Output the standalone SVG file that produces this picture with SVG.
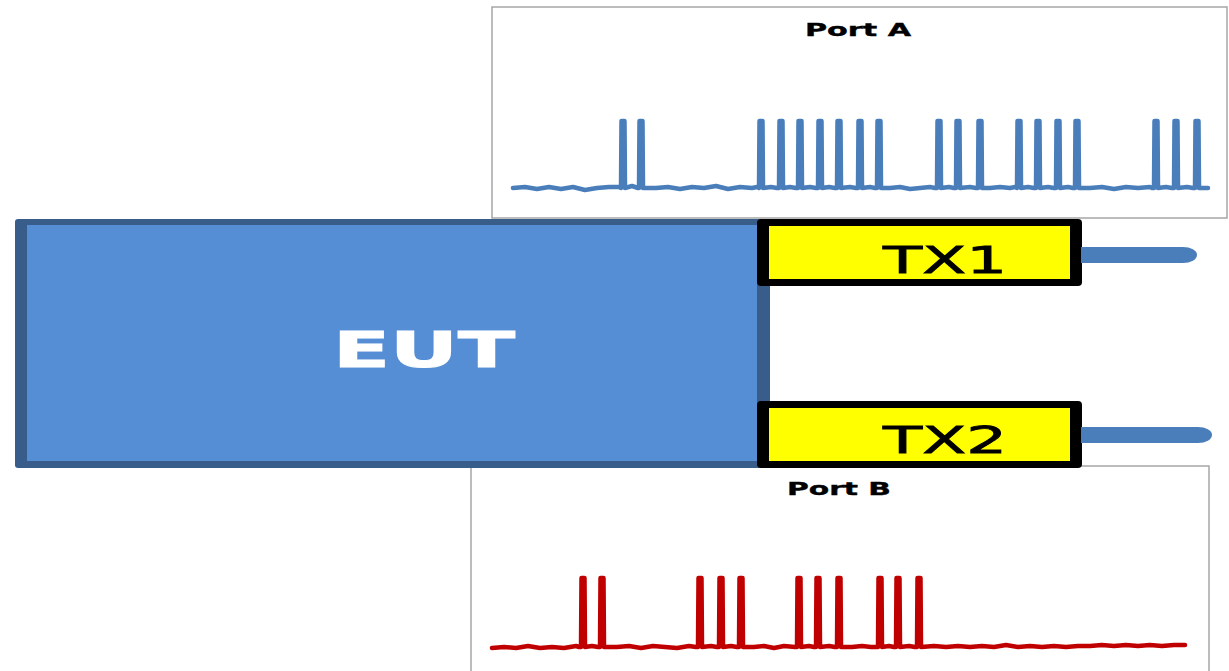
<svg xmlns="http://www.w3.org/2000/svg" width="1229" height="671" viewBox="0 0 1229 671">
  <style>
    .chart { fill: #ffffff; stroke: #a6a6a6; stroke-width: 1.5; }
    .title { font-family: "DejaVu Sans", Verdana, sans-serif; font-weight: bold; font-size: 18px; fill: #000000; stroke: #000000; stroke-width: 0.4; }
    .wave { fill: none; stroke-width: 4.5; stroke-linejoin: round; stroke-linecap: round; }
    .waveA { stroke: #4a7ebb; }
    .waveB { stroke: #c00000; }
    .eutBorder { fill: #385d8a; }
    .eutFill { fill: #558ed5; }
    .eutText { font-family: "DejaVu Sans", Verdana, sans-serif; font-weight: bold; font-size: 50px; fill: #ffffff; stroke: #ffffff; stroke-width: 1; }
    .txBorder { fill: #000000; }
    .txFill { fill: #ffff00; }
    .txText { font-family: "DejaVu Sans", Verdana, sans-serif; font-size: 38px; fill: #000000; stroke: #000000; stroke-width: 0.8; }
    .antenna { fill: #4a7ebb; }
  </style>

  <!-- Port A chart -->
  <g id="portA">
    <rect class="chart" x="492" y="7" width="735" height="211"/>
    <text class="title" x="858" y="36" text-anchor="middle" textLength="106" lengthAdjust="spacingAndGlyphs">Port A</text>
    <path class="wave waveA" d="M513,188 L525,187 L537,189 L549,187 L561,189 L573,187 L585,190 L597,188 L609,187 L619,187
      L621,188 L621.5,121 L624.5,121 L625,188 L632,186 L638,188
      L639,188 L639.5,121 L642.5,121 L643,188
      L656,188 L668,187 L680,189 L692,187 L704,188 L716,186 L728,189 L740,187 L752,188 L757,187
      L759,188 L759.5,121 L762.5,121 L763,188 L771,187 L777,188
      L779,188 L779.5,121 L782.5,121 L783,188 L790,187 L796,188
      L798,188 L798.5,121 L801.5,121 L802,188 L810,187 L816,188
      L818,188 L818.5,121 L821.5,121 L822,188 L829,187 L835,188
      L837,188 L837.5,121 L840.5,121 L841,188 L850,187 L856,188
      L858,188 L858.5,121 L861.5,121 L862,188 L870,187 L875,188
      L877,188 L877.5,121 L880.5,121 L881,188
      L890,188 L900,187 L910,189 L920,188 L930,187 L935,188
      L937,188 L937.5,121 L940.5,121 L941,188 L949,187 L954,188
      L956,188 L956.5,121 L959.5,121 L960,188 L970,187 L976,188
      L978,188 L978.5,121 L981.5,121 L982,188
      L990,188 L1000,187 L1010,188 L1015,187
      L1017,188 L1017.5,121 L1020.5,121 L1021,188 L1028,187 L1034,188
      L1036,188 L1036.5,121 L1039.5,121 L1040,188 L1048,187 L1054,188
      L1056,188 L1056.5,121 L1059.5,121 L1060,188 L1068,187 L1073,188
      L1075,188 L1075.5,121 L1078.5,121 L1079,188
      L1090,188 L1102,187 L1114,189 L1126,187 L1138,188 L1150,187 L1152,188
      L1154,188 L1154.5,121 L1157.5,121 L1158,188 L1166,187 L1172,188
      L1174,188 L1174.5,121 L1177.5,121 L1178,188 L1187,187 L1193,188
      L1195,188 L1195.5,121 L1198.5,121 L1199,188 L1208,188"/>
  </g>

  <!-- Port B chart -->
  <g id="portB">
    <rect class="chart" x="471" y="466" width="738" height="215"/>
    <text class="title" x="839" y="495" text-anchor="middle" textLength="104" lengthAdjust="spacingAndGlyphs">Port B</text>
    <path class="wave waveB" d="M492,648 L504,647 L516,648 L528,646 L540,648 L552,647 L564,648 L576,646 L579,647
      L581,647 L581.5,578 L584.5,578 L585,647 L592,646 L598,647
      L600,647 L600.5,578 L603.5,578 L604,647
      L617,647 L629,646 L641,648 L653,646 L665,647 L677,648 L689,646 L696,647
      L698,647 L698.5,578 L701.5,578 L702,647 L711,646 L717,647
      L719,647 L719.5,578 L722.5,578 L723,647 L731,646 L737,647
      L739,647 L739.5,578 L742.5,578 L743,647
      L754,647 L764,646 L774,648 L784,646 L795,647
      L797,647 L797.5,578 L800.5,578 L801,647 L809,646 L814,647
      L816,647 L816.5,578 L819.5,578 L820,647 L829,646 L835,647
      L837,647 L837.5,578 L840.5,578 L841,647
      L852,647 L862,646 L871,647 L876,647
      L878,647 L878.5,578 L881.5,578 L882,647 L889,646 L894,647
      L896,647 L896.5,578 L899.5,578 L900,647 L909,646 L915,647
      L917,647 L917.5,578 L920.5,578 L921,647
      L934,646 L946,647 L958,646 L970,647 L982,646 L994,647 L1006,645 L1018,647 L1030,646
      L1042,647 L1054,646 L1066,647 L1078,646 L1090,646 L1102,645 L1114,646 L1126,645
      L1138,646 L1150,645 L1162,646 L1174,645 L1185,645"/>
  </g>

  <!-- Equipment under test -->
  <g id="eut">
    <rect class="eutBorder" x="15" y="219" width="755" height="249" rx="3"/>
    <rect class="eutFill" x="27" y="225" width="730" height="236"/>
    <text class="eutText" x="424" y="367" text-anchor="middle" textLength="182" lengthAdjust="spacingAndGlyphs">EUT</text>
  </g>

  <!-- Transmitter 1 -->
  <g id="tx1">
    <rect class="txBorder" x="757" y="219" width="325" height="67" rx="4"/>
    <rect class="txFill" x="769" y="226" width="301" height="53"/>
    <text class="txText" x="945" y="273" text-anchor="middle" textLength="124" lengthAdjust="spacingAndGlyphs">TX1</text>
  </g>

  <!-- Transmitter 2 -->
  <g id="tx2">
    <rect class="txBorder" x="757" y="401" width="325" height="67" rx="4"/>
    <rect class="txFill" x="769" y="408" width="301" height="53"/>
    <text class="txText" x="945" y="453" text-anchor="middle" textLength="124" lengthAdjust="spacingAndGlyphs">TX2</text>
  </g>

  <!-- Antenna leads -->
  <g id="connectors">
    <path class="antenna" d="M1081,247 H1183 A14,8 0 0 1 1183,263 H1081 Z"/>
    <path class="antenna" d="M1081,427 H1198 A14,8 0 0 1 1198,443 H1081 Z"/>
  </g>
</svg>
